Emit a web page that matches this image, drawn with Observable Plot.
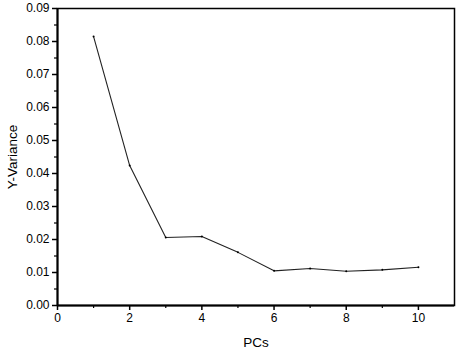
<!DOCTYPE html>
<html>
<head>
<meta charset="utf-8">
<script src="https://cdn.jsdelivr.net/npm/d3@7"></script>
<script src="https://cdn.jsdelivr.net/npm/@observablehq/plot@0.6"></script>
<style>
  html, body { margin: 0; padding: 0; background: #fff; }
</style>
</head>
<body>
<div id="chart"></div>
<script>
const pcs = [1, 2, 3, 4, 5, 6, 7, 8, 9, 10];
const yVariance = [0.0815, 0.0424, 0.0206, 0.0209, 0.0161, 0.0105, 0.0112, 0.0104, 0.0108, 0.0116];
const xTicks = [0, 2, 4, 6, 8, 10];
const xMinorTicks = [1, 3, 5, 7, 9];
const yTicks = [0, 0.01, 0.02, 0.03, 0.04, 0.05, 0.06, 0.07, 0.08, 0.09];
const yMinorTicks = [0.005, 0.015, 0.025, 0.035, 0.045, 0.055, 0.065, 0.075, 0.085];

const data = pcs.map((pc, i) => ({pc, v: yVariance[i]}));

const chart = Plot.plot({
  width: 459,
  height: 350,
  marginLeft: 57,
  marginTop: 8,
  marginRight: 5,
  marginBottom: 45,
  style: {fontFamily: "'Liberation Sans', Arial, sans-serif", fontSize: "12px", color: "#000", background: "#fff"},
  x: {domain: [0, 11]},
  y: {domain: [0, 0.09]},
  marks: [
    Plot.frame({stroke: "#000", strokeWidth: 1.5}),
    Plot.axisX({ticks: xTicks, tickSize: 5, tickPadding: 3, strokeWidth: 1.5, tickFormat: d => String(d), label: "PCs", labelAnchor: "center", labelArrow: "none", labelOffset: 41}),
    Plot.axisX({ticks: xMinorTicks, tickSize: 3, strokeWidth: 1.2, tickFormat: null, label: null, text: null}),
    Plot.axisY({ticks: yTicks, tickSize: 5, tickPadding: 3, strokeWidth: 1.5, tickFormat: ".2f", label: "Y-Variance", labelAnchor: "center", labelArrow: "none", labelOffset: 50}),
    Plot.axisY({ticks: yMinorTicks, tickSize: 3, strokeWidth: 1.2, tickFormat: null, label: null, text: null}),
    Plot.ruleX([0], {stroke: "#000", strokeWidth: 2}),
    Plot.ruleY([0], {stroke: "#000", strokeWidth: 2}),
    Plot.line(data, {x: "pc", y: "v", stroke: "#222", strokeWidth: 1.1}),
    Plot.dot(data, {x: "pc", y: "v", r: 1, fill: "#000", stroke: null})
  ]
});
chart.querySelectorAll('[aria-label="x-axis label"] text, [aria-label="y-axis label"] text').forEach(t => t.setAttribute("font-size", "13.5"));
document.getElementById("chart").appendChild(chart);
</script>
</body>
</html>
